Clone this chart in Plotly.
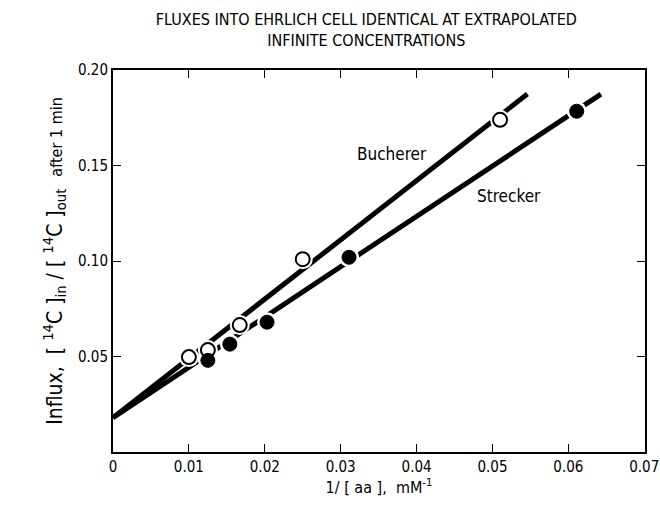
import plotly.graph_objects as go

# Data
bucherer_x = [0.0100, 0.0125, 0.0167, 0.0250, 0.0510]
bucherer_y = [0.0497, 0.0534, 0.0665, 0.1010, 0.1740]
strecker_x = [0.0125, 0.0154, 0.0203, 0.0311, 0.0611]
strecker_y = [0.0480, 0.0565, 0.0680, 0.1020, 0.1785]

# Fitted straight lines (drawn) endpoints
bucherer_fit_x = [0.0, 0.0546]
bucherer_fit_y = [0.018, 0.1875]
strecker_fit_x = [0.0, 0.0643]
strecker_fit_y = [0.018, 0.1875]

x_ticks = [0, 0.01, 0.02, 0.03, 0.04, 0.05, 0.06, 0.07]
x_ticktext = ["0", "0.01", "0.02", "0.03", "0.04", "0.05", "0.06", "0.07"]
y_ticks = [0.05, 0.10, 0.15, 0.20]
y_ticktext = ["0.05", "0.10", "0.15", "0.20"]

FONT = "DejaVu Sans Condensed, Liberation Sans Narrow, Arial Narrow, sans-serif"

fig = go.Figure()
for fx, fy in [(bucherer_fit_x, bucherer_fit_y), (strecker_fit_x, strecker_fit_y)]:
    fig.add_trace(go.Scatter(x=fx, y=fy, mode="lines",
                             line=dict(color="black", width=5),
                             showlegend=False, hoverinfo="skip"))
# white halos to break lines around markers
for px, py in [(bucherer_x, bucherer_y), (strecker_x, strecker_y)]:
    fig.add_trace(go.Scatter(x=px, y=py, mode="markers",
                             marker=dict(color="white", size=20, line=dict(width=0)),
                             showlegend=False, hoverinfo="skip"))
fig.add_trace(go.Scatter(x=bucherer_x, y=bucherer_y, mode="markers", name="Bucherer",
                         marker=dict(color="white", size=14,
                                     line=dict(color="black", width=2)),
                         showlegend=False))
fig.add_trace(go.Scatter(x=strecker_x, y=strecker_y, mode="markers", name="Strecker",
                         marker=dict(color="black", size=14,
                                     line=dict(color="black", width=1)),
                         showlegend=False))

fig.add_annotation(x=0.0368, y=0.156, text="Bucherer", showarrow=False,
                   font=dict(size=17, color="black", family=FONT))
fig.add_annotation(x=0.0522, y=0.134, text="Strecker", showarrow=False,
                   font=dict(size=17, color="black", family=FONT))

fig.update_layout(
    width=660, height=506,
    margin=dict(l=113, r=15, t=70, b=54),
    paper_bgcolor="white", plot_bgcolor="white",
    font=dict(family=FONT, color="black", size=15),
    showlegend=False,
    title=dict(text="FLUXES INTO EHRLICH CELL IDENTICAL AT EXTRAPOLATED<br>INFINITE CONCENTRATIONS",
               x=0.555, xanchor="center", y=0.95, yanchor="top",
               font=dict(size=16, family=FONT, color="black")),
)
fig.update_xaxes(range=[0, 0.0701], tickvals=x_ticks, ticktext=x_ticktext,
                 ticks="inside", ticklen=8, tickwidth=1, tickcolor="black",
                 showline=True, linecolor="black", linewidth=2, mirror="ticks",
                 showgrid=False, zeroline=False, ticklabeloverflow="allow",
                 automargin=False,
                 title=dict(text="1/ [ aa ],  mM<sup>-1</sup>", standoff=6,
                            font=dict(size=16, family=FONT)),
                 tickfont=dict(size=15, family=FONT))
fig.update_yaxes(range=[0, 0.2001], tickvals=y_ticks, ticktext=y_ticktext,
                 ticks="inside", ticklen=8, tickwidth=1, tickcolor="black",
                 showline=True, linecolor="black", linewidth=2, mirror="ticks",
                 showgrid=False, zeroline=False, ticklabeloverflow="allow",
                 automargin=False,
                 title=dict(text="Influx,  [ <sup>14</sup>C ]<sub>in</sub> / [ <sup>14</sup>C ]<sub>out</sub>  <span style='font-size:16px'>after 1 min</span>",
                            standoff=10, font=dict(size=21, family=FONT)),
                 tickfont=dict(size=15, family=FONT))

fig.write_html("out.html",
               config={"displayModeBar": False},
               post_script="document.body.style.margin='0';document.body.style.overflow='hidden';")
